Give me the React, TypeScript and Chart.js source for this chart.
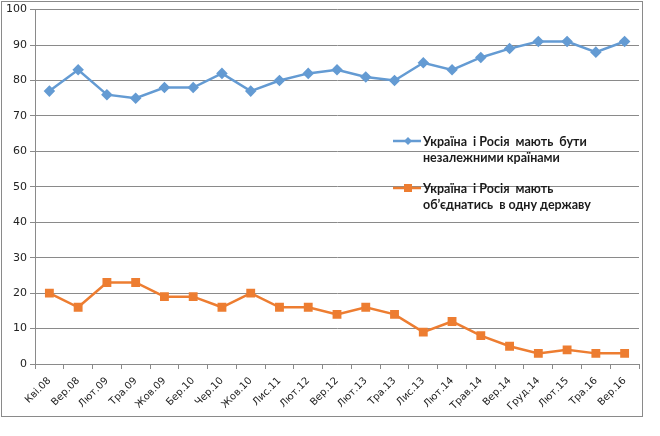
import React, { useEffect, useRef } from "react";
import { Chart, registerables } from "chart.js";

Chart.register(...registerables);

const categories = [
  "Кві.08", "Вер.08", "Лют.09", "Тра.09", "Жов.09", "Бер.10", "Чер.10", "Жов.10",
  "Лис.11", "Лют.12", "Вер.12", "Лют.13", "Тра.13", "Лис.13", "Лют.14", "Трав.14",
  "Вер.14", "Груд.14", "Лют.15", "Тра.16", "Вер.16",
];
const independentValues = [77, 83, 76, 75, 78, 78, 82, 77, 80, 82, 83, 81, 80, 85, 83, 86.5, 89, 91, 91, 88, 91];
const unifyValues = [20, 16, 23, 23, 19, 19, 16, 20, 16, 16, 14, 16, 14, 9, 12, 8, 5, 3, 4, 3, 3];
const seriesNames = [
  ["Україна  і Росія  мають  бути", "незалежними країнами"],
  ["Україна  і Росія  мають", "об’єднатись  в одну державу"],
];
const BLUE = "#649BD3";
const ORANGE = "#ED7D31";
const GRID = "#8a8a8a";

const frameAndLegend = {
  id: "frameAndLegend",
  beforeDraw(chart: any) {
    const ctx = chart.ctx;
    ctx.save();
    ctx.fillStyle = "#fff";
    ctx.fillRect(0, 0, chart.width, chart.height);
    ctx.strokeStyle = GRID;
    ctx.lineWidth = 1;
    ctx.strokeRect(1.5, 1.5, 641, 415);
    ctx.restore();
  },
  afterDatasetsDraw(chart: any) {
    const ctx = chart.ctx;
    const items = [
      { color: BLUE, style: "diamond", y: 141, lines: seriesNames[0] },
      { color: ORANGE, style: "square", y: 188, lines: seriesNames[1] },
    ];
    ctx.save();
    for (const it of items) {
      ctx.strokeStyle = it.color;
      ctx.lineWidth = 2.5;
      ctx.beginPath();
      ctx.moveTo(393, it.y);
      ctx.lineTo(421, it.y);
      ctx.stroke();
      ctx.fillStyle = it.color;
      const cx = 408;
      if (it.style === "diamond") {
        ctx.beginPath();
        ctx.moveTo(cx, it.y - 4);
        ctx.lineTo(cx + 4, it.y);
        ctx.lineTo(cx, it.y + 4);
        ctx.lineTo(cx - 4, it.y);
        ctx.closePath();
        ctx.fill();
      } else {
        ctx.fillRect(cx - 4, it.y - 4, 8, 8);
      }
      ctx.fillStyle = "#1a1a1a";
      ctx.font = "bold 12.5px Lato";
      ctx.textBaseline = "middle";
      ctx.textAlign = "left";
      it.lines.forEach((t: string, i: number) => {
        ctx.fillText(t, 423, it.y + 1 + i * 16);
      });
    }
    ctx.restore();
  },
};

export default function App() {
  const ref = useRef<HTMLCanvasElement>(null);
  useEffect(() => {
    if (!ref.current) return;
    const chart = new Chart(ref.current, {
      type: "line",
      data: {
        labels: categories,
        datasets: [
          {
            label: seriesNames[0].join(" "),
            data: independentValues,
            borderColor: BLUE,
            backgroundColor: BLUE,
            borderWidth: 2.5,
            pointStyle: "rectRot",
            pointRadius: 4,
            pointHoverRadius: 4,
            tension: 0,
          },
          {
            label: seriesNames[1].join(" "),
            data: unifyValues,
            borderColor: ORANGE,
            backgroundColor: ORANGE,
            borderWidth: 2.5,
            pointStyle: "rect",
            pointRadius: 4.5,
            pointHoverRadius: 4.5,
            tension: 0,
          },
        ],
      },
      options: {
        animation: false,
        responsive: false,
        maintainAspectRatio: false,
        layout: { padding: { left: 0, top: 8, right: 21, bottom: 0 } },
        plugins: { legend: { display: false }, tooltip: { enabled: false } },
        scales: {
          x: {
            offset: true,
            grid: {
              offset: true,
              drawOnChartArea: false,
              drawTicks: true,
              tickLength: 5,
              color: GRID,
            },
            border: { display: true, color: GRID },
            ticks: {
              maxRotation: 45,
              minRotation: 45,
              autoSkip: false,
              color: "#222",
              font: { family: "DejaVu Sans", size: 10 },
              padding: 6,
            },
            afterFit(scale: any) {
              scale.height = 72;
            },
          },
          y: {
            min: 0,
            max: 100,
            ticks: {
              stepSize: 10,
              color: "#222",
              font: { family: "DejaVu Sans", size: 11 },
              padding: 3,
            },
            grid: { color: GRID, tickLength: 5 },
            border: { display: true, color: GRID },
            afterFit(scale: any) {
              scale.width = 35;
            },
          },
        },
      },
      plugins: [frameAndLegend],
    });
    return () => chart.destroy();
  }, []);
  return (
    <div style={{ position: "fixed", left: 0, top: 0, width: 660, height: 436 }}>
      <canvas ref={ref} width={660} height={436} style={{ width: 660, height: 436 }} />
    </div>
  );
}
